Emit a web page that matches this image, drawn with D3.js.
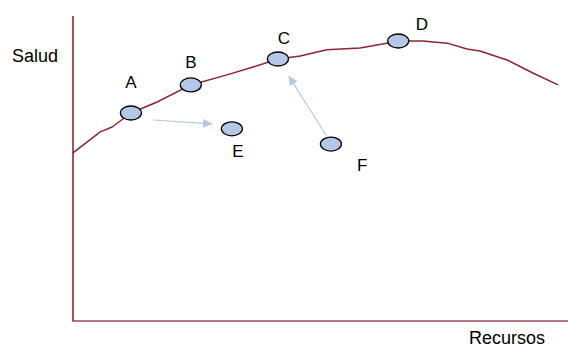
<!DOCTYPE html>
<html>
<head>
<meta charset="utf-8">
<script src="https://cdn.jsdelivr.net/npm/d3@7"></script>
<style>
  body { margin: 0; background: #fff; }
  text { font-family: "Liberation Sans", Arial, sans-serif; fill: #000; }
</style>
</head>
<body>
<svg class="chart"></svg>
<script>
    var width = 568;
    var height = 347;

    // curve (Recursos, Salud), 0-100 units
    var curveX = [0, 5.5, 7.9, 11.7, 17.0, 23.8, 31.1, 36.4, 41.4, 45.9, 51.3, 58.0, 63.4, 65.7, 70.7, 75.6, 79.6, 82.2, 87.7, 92.9, 98.0];
    var curveY = [55.1, 62.0, 63.6, 68.2, 71.8, 77.4, 80.7, 83.3, 85.9, 86.9, 88.9, 89.5, 91.1, 91.8, 91.8, 91.1, 89.2, 88.5, 85.6, 81.3, 77.4];

    var pointNames = ["A", "B", "C", "D", "E", "F"];
    var pointX = [11.7, 23.8, 41.4, 65.7, 32.1, 52.1];
    var pointY = [68.2, 77.4, 85.9, 91.8, 63.0, 58.0];
    var labelX = [11.7, 23.8, 42.6, 70.5, 33.3, 58.4];
    var labelY = [76.4, 82.9, 90.8, 95.4, 53.8, 49.2];

    // arrows: A -> E and F -> C
    var arrowFromX = [16.2, 51.1];
    var arrowFromY = [65.9, 61.0];
    var arrowToX = [28.1, 43.6];
    var arrowToY = [64.6, 80.3];

    var axisTitles = ["Salud", "Recursos"];

    var x = d3.scaleLinear()
        .domain([0, 100])
        .range([73, 568]);

    var y = d3.scaleLinear()
        .domain([0, 100])
        .range([321, 16]);

    var chart = d3.select(".chart")
        .attr("width", width)
        .attr("height", height);

    var defs = chart.append("defs");
    defs.append("marker")
        .attr("id", "head")
        .attr("viewBox", "0 0 10 10")
        .attr("refX", 10)
        .attr("refY", 5)
        .attr("markerWidth", 11)
        .attr("markerHeight", 9)
        .attr("markerUnits", "userSpaceOnUse")
        .attr("orient", "auto")
      .append("path")
        .attr("d", "M0,0L10,5L0,10Z")
        .attr("fill", "#b4c7e7");

    // axes
    chart.append("line")
        .attr("x1", x(0)).attr("x2", x(0))
        .attr("y1", y(100)).attr("y2", y(0))
        .attr("stroke", "#7b1e2a")
        .attr("stroke-width", 1.5);
    chart.append("line")
        .attr("x1", x(0) - 0.75).attr("x2", x(100))
        .attr("y1", y(0)).attr("y2", y(0))
        .attr("stroke", "#9c4a55")
        .attr("stroke-width", 1.5);

    var curve = curveX.map(function(d, i) { return [d, curveY[i]]; });
    var line = d3.line()
        .x(function(d) { return x(d[0]); })
        .y(function(d) { return y(d[1]); });

    chart.append("path")
        .datum(curve)
        .attr("d", line)
        .attr("fill", "none")
        .attr("stroke", "#8b2332")
        .attr("stroke-width", 1.5)
        .attr("stroke-linejoin", "round");

    // arrows
    chart.selectAll(".arrow")
        .data(arrowFromX)
        .enter().append("line")
        .attr("class", "arrow")
        .attr("x1", function(d) { return x(d); })
        .attr("y1", function(d, i) { return y(arrowFromY[i]); })
        .attr("x2", function(d, i) { return x(arrowToX[i]); })
        .attr("y2", function(d, i) { return y(arrowToY[i]); })
        .attr("stroke", "#b4c7e7")
        .attr("stroke-width", 1.2)
        .attr("marker-end", "url(#head)");

    // points
    chart.selectAll(".pt")
        .data(pointNames)
        .enter().append("ellipse")
        .attr("class", "pt")
        .attr("cx", function(d, i) { return x(pointX[i]); })
        .attr("cy", function(d, i) { return y(pointY[i]); })
        .attr("rx", 10.5)
        .attr("ry", 7)
        .attr("fill", "#b4c7e7")
        .attr("stroke", "#000")
        .attr("stroke-width", 1.3);

    chart.selectAll(".lbl")
        .data(pointNames)
        .enter().append("text")
        .attr("class", "lbl")
        .attr("x", function(d, i) { return x(labelX[i]); })
        .attr("y", function(d, i) { return y(labelY[i]); })
        .attr("text-anchor", "middle")
        .style("font-size", "17px")
        .text(function(d) { return d; });

    chart.append("text")
        .attr("x", 12)
        .attr("y", 62)
        .style("font-size", "18px")
        .text(axisTitles[0]);

    chart.append("text")
        .attr("x", 469)
        .attr("y", 344)
        .style("font-size", "18px")
        .text(axisTitles[1]);
</script>
</body>
</html>
